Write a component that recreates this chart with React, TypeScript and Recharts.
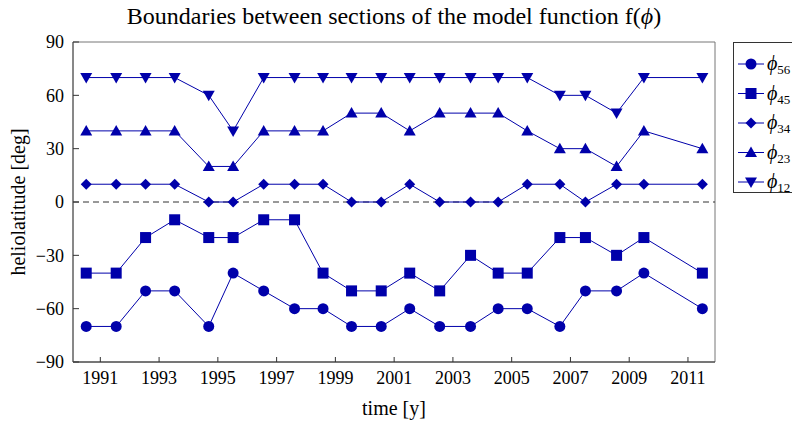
import React from 'react';
import { LineChart, Line, XAxis, YAxis, ReferenceLine, ReferenceArea, Label } from 'recharts';

// observation epochs (decimal years)
const epochs = [
  1990.52, 1991.54, 1992.54, 1993.53, 1994.69, 1995.52, 1996.56, 1997.61, 1998.58, 1999.55, 2000.56,
  2001.53, 2002.55, 2003.6, 2004.54, 2005.53, 2006.64, 2007.51, 2008.57, 2009.5, 2011.49,
];

// boundary latitudes [deg]
const phi56 = [-70, -70, -50, -50, -70, -40, -50, -60, -60, -70, -70, -60, -70, -70, -60, -60, -70, -50, -50, -40, -60];
const phi45 = [-40, -40, -20, -10, -20, -20, -10, -10, -40, -50, -50, -40, -50, -30, -40, -40, -20, -20, -30, -20, -40];
const phi34 = [10, 10, 10, 10, 0, 0, 10, 10, 10, 0, 0, 10, 0, 0, 0, 10, 10, 0, 10, 10, 10];
const phi23 = [40, 40, 40, 40, 20, 20, 40, 40, 40, 50, 50, 40, 50, 50, 50, 40, 30, 30, 20, 40, 30];
const phi12 = [70, 70, 70, 70, 60, 40, 70, 70, 70, 70, 70, 70, 70, 70, 70, 70, 60, 60, 50, 70, 70];

const yearTicks = [1991, 1993, 1995, 1997, 1999, 2001, 2003, 2005, 2007, 2009, 2011];
const latTicks = [-90, -60, -30, 0, 30, 60, 90];

const X_MIN = 1990.07;
const X_MAX = 2011.92;

const BLUE = '#0000aa';
const FONT = '"Liberation Serif", "DejaVu Serif", serif';
const TICK_GAP = 8;

type Shape = 'circle' | 'square' | 'diamond' | 'up' | 'down';

const seriesList: { key: string; sub: string; values: number[]; shape: Shape }[] = [
  { key: 'phi56', sub: '56', values: phi56, shape: 'circle' },
  { key: 'phi45', sub: '45', values: phi45, shape: 'square' },
  { key: 'phi34', sub: '34', values: phi34, shape: 'diamond' },
  { key: 'phi23', sub: '23', values: phi23, shape: 'up' },
  { key: 'phi12', sub: '12', values: phi12, shape: 'down' },
];

const rows = epochs.map((t, i) => {
  const row: Record<string, number> = { t };
  seriesList.forEach((s) => {
    row[s.key] = s.values[i];
  });
  return row;
});

const Marker = ({ cx, cy, shape }: { cx: number; cy: number; shape: Shape }) => {
  switch (shape) {
    case 'circle':
      return <circle cx={cx} cy={cy} r={5.5} fill={BLUE} />;
    case 'square':
      return <rect x={cx - 5.5} y={cy - 5.5} width={11} height={11} fill={BLUE} />;
    case 'diamond':
      return <polygon points={`${cx},${cy - 5.5} ${cx + 5.5},${cy} ${cx},${cy + 5.5} ${cx - 5.5},${cy}`} fill={BLUE} />;
    case 'up':
      return <polygon points={`${cx},${cy - 6} ${cx + 6},${cy + 4.5} ${cx - 6},${cy + 4.5}`} fill={BLUE} />;
    default:
      return <polygon points={`${cx},${cy + 6} ${cx + 6},${cy - 4.5} ${cx - 6},${cy - 4.5}`} fill={BLUE} />;
  }
};

const dotFor = (shape: Shape) => (props: any) => (
  <g key={`${shape}-${props.index}`}>
    <Marker cx={props.cx} cy={props.cy} shape={shape} />
  </g>
);

const fmtLat = (v: number) => (v < 0 ? `\u2212${-v}` : `${v}`);

const YTick = (props: any) => {
  const { x, y, payload } = props;
  const edge = x + TICK_GAP;
  return (
    <g>
      <line x1={edge} x2={edge + 6} y1={y} y2={y} stroke="#333" />
      <text x={x - 1} y={y} dy="0.35em" textAnchor="end" fontSize={18} fontFamily={FONT} fill="#000">
        {fmtLat(payload.value)}
      </text>
    </g>
  );
};

const XTick = (props: any) => {
  const { x, y, payload } = props;
  const edge = y - TICK_GAP;
  return (
    <g>
      <line x1={x} x2={x} y1={edge} y2={edge - 5} stroke="#333" />
      <text x={x} y={y} dy="0.8em" textAnchor="middle" fontSize={18} fontFamily={FONT} fill="#000">
        {payload.value}
      </text>
    </g>
  );
};

const LegendBox = () => (
  <div
    style={{
      position: 'absolute',
      left: 733,
      top: 42,
      width: 80,
      height: 151,
      border: '1px solid #333',
      background: '#fff',
      boxSizing: 'border-box',
    }}
  >
    <svg width={80} height={151}>
      {seriesList.map((s, i) => {
        const cy = 21 + i * 29.5;
        return (
          <g key={s.key}>
            <line x1={4} x2={30} y1={cy} y2={cy} stroke={BLUE} strokeWidth={1} />
            <Marker cx={17} cy={cy} shape={s.shape} />
            <text x={33} y={cy + 6} fontFamily={FONT} fontSize={20} fill="#000">
              <tspan fontStyle="italic">{'\u03d5'}</tspan>
              <tspan fontSize={13} dy={4}>
                {s.sub}
              </tspan>
            </text>
          </g>
        );
      })}
    </svg>
  </div>
);

const App: React.FC = () => {
  return (
    <div
      style={{
        position: 'absolute',
        left: 0,
        top: 0,
        width: 792,
        height: 422,
        overflow: 'hidden',
        background: '#fff',
        fontFamily: FONT,
      }}
    >
      <svg width={792} height={40} style={{ position: 'absolute', left: 0, top: 0 }}>
        <text x={394} y={24} textAnchor="middle" fontSize={24} fontFamily={FONT} fill="#000">
          Boundaries between sections of the model function f(
          <tspan fontStyle="italic">{'\u03d5'}</tspan>)
        </text>
      </svg>
      <LineChart width={792} height={422} data={rows} margin={{ top: 42, right: 77, bottom: 0, left: 0 }}>
        <ReferenceArea x1={X_MIN} x2={X_MAX} y1={-90} y2={90} fill="none" stroke="#777" strokeWidth={1} />
        <XAxis
          type="number"
          dataKey="t"
          domain={[X_MIN, X_MAX]}
          ticks={yearTicks}
          allowDataOverflow
          height={60}
          tickSize={0}
          tickMargin={TICK_GAP}
          tickLine={false}
          axisLine={{ stroke: '#333' }}
          tick={<XTick />}
          interval={0}
        >
          <Label
            content={({ viewBox }: any) => (
              <text
                x={viewBox.x + viewBox.width / 2}
                y={viewBox.y + 53}
                textAnchor="middle"
                fontSize={20}
                fontFamily={FONT}
                fill="#000"
              >
                time [y]
              </text>
            )}
          />
        </XAxis>
        <YAxis
          type="number"
          domain={[-90, 90]}
          ticks={latTicks}
          allowDataOverflow
          width={73}
          tickSize={0}
          tickMargin={TICK_GAP}
          tickLine={false}
          axisLine={{ stroke: '#555' }}
          tick={<YTick />}
          interval={0}
        >
          <Label
            content={({ viewBox }: any) => {
              const cx = viewBox.x + 25;
              const cy = viewBox.y + viewBox.height / 2;
              return (
                <text
                  x={cx}
                  y={cy}
                  transform={`rotate(-90, ${cx}, ${cy})`}
                  textAnchor="middle"
                  fontSize={20}
                  fontFamily={FONT}
                  fill="#000"
                >
                  heliolatitude [deg]
                </text>
              );
            }}
          />
        </YAxis>
        <ReferenceLine y={0} stroke="#333" strokeDasharray="6 4" strokeWidth={1} />
        {seriesList.map((s) => (
          <Line
            key={s.key}
            type="linear"
            dataKey={s.key}
            stroke={BLUE}
            strokeWidth={1}
            dot={dotFor(s.shape)}
            activeDot={false}
            isAnimationActive={false}
            legendType="none"
          />
        ))}
      </LineChart>
      <LegendBox />
    </div>
  );
};

export default App;
